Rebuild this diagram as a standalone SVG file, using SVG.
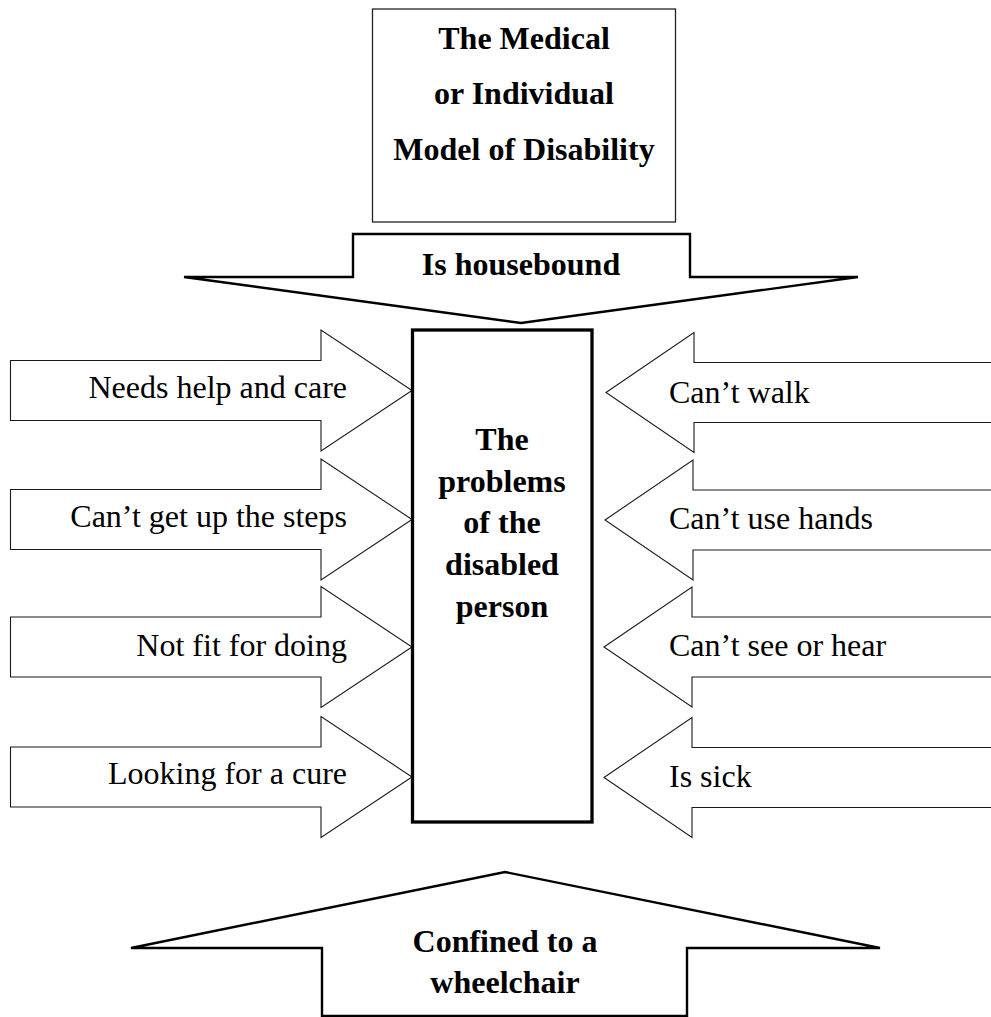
<svg xmlns="http://www.w3.org/2000/svg" xmlns:xlink="http://www.w3.org/1999/xlink" width="991" height="1017" viewBox="0 0 991 1017">
  <style>
    .bg { fill: #ffffff; }
    .box-thin { fill: #ffffff; stroke: #222222; stroke-width: 1.3; }
    .box-thick { fill: #ffffff; stroke: #000000; stroke-width: 3.3; }
    .big-arrow { fill: #ffffff; stroke: #000000; stroke-width: 2.4; stroke-linejoin: miter; }
    .side-arrow { fill: #ffffff; stroke: #1a1a1a; stroke-width: 1.1; }
    .bold { font-family: "Liberation Serif", "Times New Roman", serif; font-weight: bold; font-size: 32px; fill: #000000; text-anchor: middle; }
    .label-l { font-family: "Liberation Serif", "Times New Roman", serif; font-size: 32px; fill: #000000; text-anchor: end; }
    .label-r { font-family: "Liberation Serif", "Times New Roman", serif; font-size: 32px; fill: #000000; text-anchor: start; }
  </style>
  <defs>
    <!-- block arrow pointing right, origin at left end of the shaft centre line -->
    <path id="arrow-right" d="M0,-30 H310.5 V-60.5 L401.5,0 L310.5,60.5 V30 H0 Z"/>
    <!-- block arrow pointing left, origin at the tip; shaft runs off the right edge -->
    <path id="arrow-left" d="M0,0 L88,-60 V-30 H400 V30 H88 V60 Z"/>
  </defs>

  <rect class="bg" x="0" y="0" width="991" height="1017"/>

  <!-- title box -->
  <g id="node-title">
    <rect class="box-thin" x="372.5" y="9" width="303" height="213"/>
    <text class="bold" x="524" y="49">The Medical</text>
    <text class="bold" x="524" y="104">or Individual</text>
    <text class="bold" x="524" y="160">Model of Disability</text>
  </g>

  <!-- arrows pushing in on the central box -->
  <g id="connectors">
    <g id="arrow-housebound">
      <path class="big-arrow" d="M184,277 H353 V234 H690 V277 H858 L521,323 Z"/>
      <text class="bold" x="521" y="275">Is housebound</text>
    </g>

    <g id="arrow-needs-help">
      <use xlink:href="#arrow-right" class="side-arrow" transform="translate(10.5,390.5)"/>
      <text class="label-l" x="347" y="398">Needs help and care</text>
    </g>
    <g id="arrow-steps">
      <use xlink:href="#arrow-right" class="side-arrow" transform="translate(10.5,519.5)"/>
      <text class="label-l" x="347" y="527">Can’t get up the steps</text>
    </g>
    <g id="arrow-not-fit">
      <use xlink:href="#arrow-right" class="side-arrow" transform="translate(10.5,647)"/>
      <text class="label-l" x="347" y="656">Not fit for doing</text>
    </g>
    <g id="arrow-cure">
      <use xlink:href="#arrow-right" class="side-arrow" transform="translate(10.5,777)"/>
      <text class="label-l" x="347" y="784">Looking for a cure</text>
    </g>

    <g id="arrow-walk">
      <use xlink:href="#arrow-left" class="side-arrow" transform="translate(606,392.5)"/>
      <text class="label-r" x="669" y="403">Can’t walk</text>
    </g>
    <g id="arrow-hands">
      <use xlink:href="#arrow-left" class="side-arrow" transform="translate(605,520)"/>
      <text class="label-r" x="669" y="529">Can’t use hands</text>
    </g>
    <g id="arrow-see-hear">
      <use xlink:href="#arrow-left" class="side-arrow" transform="translate(604,647)"/>
      <text class="label-r" x="669" y="656">Can’t see or hear</text>
    </g>
    <g id="arrow-sick">
      <use xlink:href="#arrow-left" class="side-arrow" transform="translate(604,777.5)"/>
      <text class="label-r" x="669" y="787">Is sick</text>
    </g>

    <g id="arrow-wheelchair">
      <path class="big-arrow" d="M131,948 H322 V1016 H687 V948 H880 L505,872 Z"/>
      <text class="bold" x="505" y="952">Confined to a</text>
      <text class="bold" x="505" y="993">wheelchair</text>
    </g>
  </g>

  <!-- central box -->
  <g id="node-person">
    <rect class="box-thick" x="412.5" y="330" width="179.5" height="492"/>
    <text class="bold" x="502" y="450">The</text>
    <text class="bold" x="502" y="492">problems</text>
    <text class="bold" x="502" y="533">of the</text>
    <text class="bold" x="502" y="575">disabled</text>
    <text class="bold" x="502" y="617">person</text>
  </g>
</svg>
